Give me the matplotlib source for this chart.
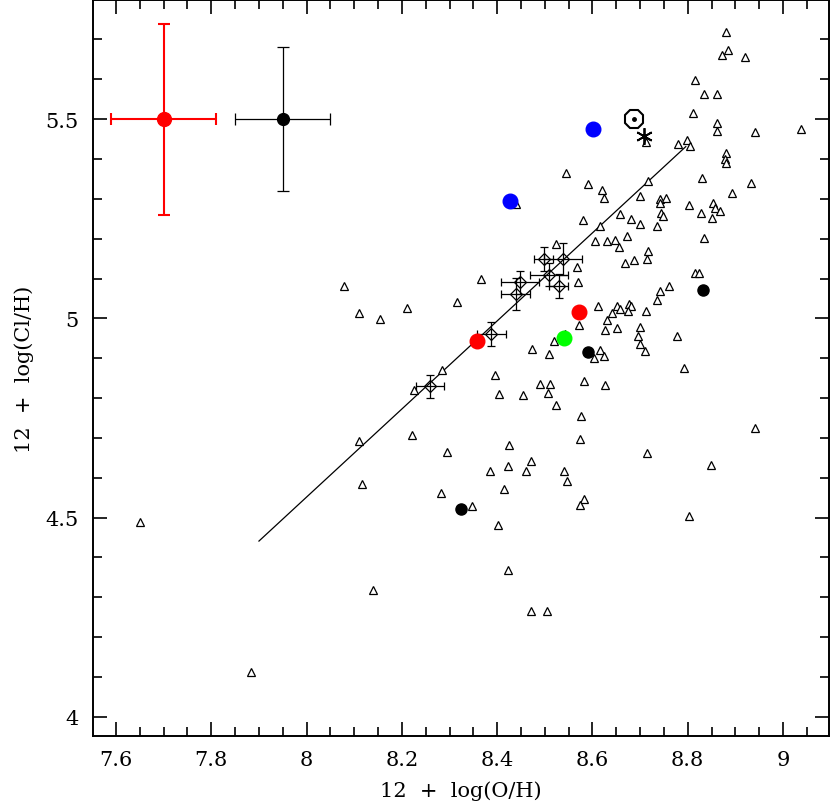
import numpy as np
import matplotlib
matplotlib.use("Agg")
import matplotlib.pyplot as plt
from matplotlib.ticker import MultipleLocator, FuncFormatter

plt.rcParams['font.family'] = ['DejaVu Serif']

# open triangles: 12+log(O/H), 12+log(Cl/H)
tri_x = [8.881, 8.884, 8.872, 8.920, 8.815, 8.834, 8.861, 8.812, 8.862, 8.862,
         8.942, 9.038, 8.713, 8.779, 8.798, 8.805, 8.880, 8.878, 8.880, 8.544,
         8.591, 8.620, 8.625, 8.716, 8.829, 8.933, 8.893, 8.699, 8.741, 8.754,
         8.742, 8.803, 8.854, 8.857, 8.868, 8.657, 8.743, 8.749, 8.828, 8.851,
         8.580, 8.616, 8.681, 8.699, 8.736, 8.672, 8.606, 8.630, 8.648, 8.656,
         8.835, 8.716, 8.714, 8.687, 8.668, 8.568, 8.439, 8.524, 8.570, 8.367,
         8.315, 8.211, 8.611, 8.651, 8.658, 8.676, 8.681, 8.674, 8.642, 8.712,
         8.742, 8.736, 8.572, 8.630, 8.627, 8.651, 8.700, 8.695, 8.700, 8.710,
         8.542, 8.519, 8.616, 8.603, 8.624, 8.474, 8.509, 8.284, 8.395, 8.226,
         8.490, 8.510, 8.507, 8.583, 8.626, 8.403, 8.455, 8.524, 8.576, 8.222,
         8.295, 8.425, 8.574, 8.714, 8.471, 8.423, 8.384, 8.460, 8.540, 8.547,
         8.414, 8.282, 8.347, 8.582, 8.574, 8.402, 8.422, 8.472, 8.505, 8.815,
         8.824, 8.760, 8.777, 8.792, 8.941, 8.849, 8.802, 8.079, 8.110, 8.155,
         8.109, 8.117, 7.650, 8.139, 7.883]
tri_y = [5.718, 5.674, 5.662, 5.656, 5.598, 5.562, 5.564, 5.515, 5.490, 5.470,
         5.467, 5.474, 5.442, 5.437, 5.447, 5.432, 5.416, 5.401, 5.390, 5.364,
         5.336, 5.323, 5.303, 5.344, 5.352, 5.340, 5.314, 5.306, 5.300, 5.303,
         5.289, 5.285, 5.290, 5.277, 5.270, 5.263, 5.265, 5.257, 5.264, 5.253,
         5.247, 5.232, 5.249, 5.237, 5.231, 5.206, 5.193, 5.193, 5.196, 5.178,
         5.201, 5.168, 5.150, 5.146, 5.138, 5.129, 5.287, 5.186, 5.091, 5.098,
         5.042, 5.026, 5.030, 5.031, 5.024, 5.035, 5.031, 5.019, 5.014, 5.018,
         5.068, 5.047, 4.984, 4.996, 4.972, 4.977, 4.978, 4.955, 4.935, 4.918,
         4.961, 4.942, 4.921, 4.900, 4.906, 4.924, 4.910, 4.871, 4.859, 4.820,
         4.836, 4.836, 4.813, 4.843, 4.833, 4.811, 4.808, 4.782, 4.755, 4.706,
         4.664, 4.683, 4.698, 4.663, 4.642, 4.630, 4.617, 4.617, 4.617, 4.592,
         4.572, 4.561, 4.528, 4.546, 4.531, 4.481, 4.369, 4.266, 4.265, 5.115,
         5.115, 5.080, 4.956, 4.876, 4.724, 4.632, 4.505, 5.080, 5.014, 4.999,
         4.691, 4.585, 4.489, 4.317, 4.112]

# open diamonds with errors
dia_x = [8.498, 8.539, 8.509, 8.448, 8.439, 8.529, 8.388, 8.259]
dia_y = [5.150, 5.150, 5.110, 5.090, 5.061, 5.082, 4.961, 4.829]
dia_xerr = [0.02, 0.04, 0.04, 0.04, 0.03, 0.02, 0.03, 0.03]
dia_yerr = [0.03, 0.04, 0.03, 0.03, 0.04, 0.03, 0.03, 0.03]

# filled symbols
blue_x, blue_y = [8.602, 8.428], [5.475, 5.294]
red_x, red_y = [8.572, 8.358], [5.015, 4.942]
green_x, green_y = [8.540], [4.950]
black_x, black_y = [8.591, 8.325, 8.832], [4.915, 4.521, 5.072]

# special symbols
oct_x, oct_y = [8.687], [5.500]
ast_x, ast_y = [8.708], [5.458]

# fitted line
line_x = [7.90, 8.796]
line_y = [4.441, 5.431]

# typical error bars (top left)
err_red = dict(x=7.70, y=5.50, xerr=0.11, yerr=0.24)
err_black = dict(x=7.95, y=5.50, xerr=0.10, yerr=0.18)

fig = plt.figure(figsize=(8.30, 8.03), dpi=100)
ax = fig.add_axes([92.7 / 830, 1 - 737.3 / 803, 736.0 / 830, 736.3 / 803])

ax.plot(line_x, line_y, color='black', lw=0.9, zorder=1)

ax.plot(tri_x, tri_y, linestyle='none', marker='^', ms=5.5, mfc='white',
        mec='black', mew=0.9, zorder=2)

ax.errorbar(dia_x, dia_y, xerr=dia_xerr, yerr=dia_yerr, fmt='D', ms=6,
            mfc='none', mec='black', mew=0.9, ecolor='black', elinewidth=0.9,
            capsize=3, capthick=0.9, zorder=3)

ax.plot(blue_x, blue_y, 'o', ms=10.5, color='#0000ff', mec='#0000ff', zorder=4)
ax.plot(red_x, red_y, 'o', ms=10.5, color='#ff0000', mec='#ff0000', zorder=4)
ax.plot(green_x, green_y, 'o', ms=10.5, color='#00ff00', mec='#00ff00', zorder=4)
ax.plot(black_x, black_y, 'o', ms=8, color='black', zorder=4)

ax.plot(oct_x, oct_y, marker='8', ms=14, mfc='none', mec='black', mew=1.5,
        linestyle='none', zorder=4)
ax.plot(oct_x, oct_y, marker='o', ms=2.5, color='black', linestyle='none',
        zorder=4)
ax.plot(ast_x, ast_y, marker=(6, 2, 0), ms=12, mec='black', mew=1.3,
        linestyle='none', zorder=4)

ax.errorbar(err_red['x'], err_red['y'], xerr=err_red['xerr'],
            yerr=err_red['yerr'], fmt='o', ms=10, color='#ff0000',
            elinewidth=1.5, capsize=4, capthick=1.5, zorder=4)
ax.errorbar(err_black['x'], err_black['y'], xerr=err_black['xerr'],
            yerr=err_black['yerr'], fmt='o', ms=8.5, color='black',
            elinewidth=0.9, capsize=4, capthick=0.9, zorder=4)

ax.set_xlim(7.551, 9.096)
ax.set_ylim(3.951, 5.799)

ax.xaxis.set_major_locator(MultipleLocator(0.2))
ax.xaxis.set_minor_locator(MultipleLocator(0.05))
ax.yaxis.set_major_locator(MultipleLocator(0.5))
ax.yaxis.set_minor_locator(MultipleLocator(0.1))
fmt = FuncFormatter(lambda v, p: '%g' % round(v, 3))
ax.xaxis.set_major_formatter(fmt)
ax.yaxis.set_major_formatter(fmt)

ax.tick_params(which='both', direction='in', top=True, right=True,
               width=1.2, labelsize=15, pad=10)
ax.tick_params(which='major', length=10)
ax.tick_params(which='minor', length=6.5)
for s in ax.spines.values():
    s.set_linewidth(1.4)

ax.set_xlabel('12  +  log(O/H)', fontsize=15, labelpad=8)
ax.set_ylabel('12  +  log(Cl/H)', fontsize=15, labelpad=8)

fig.savefig('out.png', dpi=100)
